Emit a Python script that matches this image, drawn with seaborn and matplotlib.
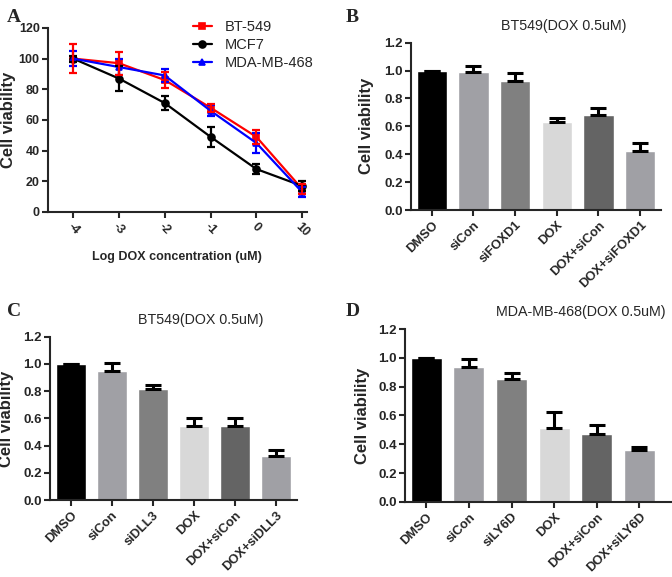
import numpy as np
import pandas as pd
import matplotlib
matplotlib.use("Agg")
import matplotlib.pyplot as plt
import seaborn as sns

# Panel A: dose response
conc = ["-4", "-3", "-2", "-1", "0", "10"]
lines = ["BT-549", "MCF7", "MDA-MB-468"]
bt549 = [100, 97, 86, 68, 49, 15]
bt549_err = [9.5, 7.5, 5, 2.5, 4.5, 3.5]
mcf7 = [100, 87, 71, 49, 28, 17]
mcf7_err = [2, 8, 4.5, 6.5, 3, 3.5]
mda = [100, 94.5, 89, 66, 45, 13]
mda_err = [5, 5, 4.5, 3.5, 6.5, 3.5]

# Panels B-D: bar charts
grp_b = ["DMSO", "siCon", "siFOXD1", "DOX", "DOX+siCon", "DOX+siFOXD1"]
val_b = [1.0, 0.99, 0.925, 0.63, 0.68, 0.42]
err_b = [0, 0.04, 0.06, 0.03, 0.055, 0.06]

grp_c = ["DMSO", "siCon", "siDLL3", "DOX", "DOX+siCon", "DOX+siDLL3"]
val_c = [1.0, 0.95, 0.815, 0.544, 0.544, 0.326]
err_c = [0, 0.06, 0.032, 0.058, 0.058, 0.041]

grp_d = ["DMSO", "siCon", "siLY6D", "DOX", "DOX+siCon", "DOX+siLY6D"]
val_d = [1.0, 0.934, 0.852, 0.51, 0.475, 0.359]
err_d = [0, 0.06, 0.042, 0.113, 0.058, 0.021]

bar_colors = ["#000000", "#a0a0a5", "#808080", "#d8d8d8", "#646464", "#a0a0a5"]
line_colors = {"BT-549": "#ff0000", "MCF7": "#000000", "MDA-MB-468": "#0000ff"}

sns.set_style("ticks")
plt.rcParams["font.family"] = ["Liberation Sans", "DejaVu Sans"]
plt.rcParams["axes.linewidth"] = 1.5
plt.rcParams["xtick.major.width"] = 1.5
plt.rcParams["ytick.major.width"] = 1.5
plt.rcParams["xtick.major.size"] = 4
plt.rcParams["ytick.major.size"] = 4
plt.rcParams["xtick.major.pad"] = 2.5
plt.rcParams["ytick.major.pad"] = 2

fig = plt.figure(figsize=(6.72, 5.77), dpi=100)

# ---- A ----
axA = fig.add_axes([0.0714, 0.6326, 0.385, 0.319])
df = pd.DataFrame({
    "conc": conc * 3,
    "line": np.repeat(lines, len(conc)),
    "val": bt549 + mcf7 + mda,
})
sns.pointplot(data=df, x="conc", y="val", hue="line", order=conc, hue_order=lines,
              palette=line_colors, markers=["s", "o", "^"], linestyles="-",
              errorbar=None, markersize=5, linewidth=1.6, ax=axA)
for name, v, e in [("MDA-MB-468", mda, mda_err), ("MCF7", mcf7, mcf7_err), ("BT-549", bt549, bt549_err)]:
    axA.errorbar(np.arange(len(conc)), v, yerr=e, fmt="none", ecolor=line_colors[name],
                 elinewidth=1.6, capsize=3, capthick=1.6, zorder=3)
axA.set_xlim(-0.55, 5.1)
axA.set_ylim(0, 120)
axA.set_yticks([0, 20, 40, 60, 80, 100, 120])
axA.set_xticks(range(len(conc)))
axA.set_xticklabels(conc, rotation=-45, ha="center", va="top")
for lab in axA.get_xticklabels() + axA.get_yticklabels():
    lab.set_fontweight("bold")
    lab.set_fontsize(9)
axA.set_xlabel("Log DOX concentration (uM)", fontsize=9, fontweight="bold", labelpad=8)
axA.set_ylabel("Cell viability", fontsize=12, fontweight="bold")
axA.yaxis.set_label_coords(-0.124, 0.5)
sns.despine(ax=axA)
leg = axA.legend(loc="upper left", bbox_to_anchor=(0.56, 1.045), frameon=False,
                 fontsize=10.5, handlelength=1.3, handletextpad=0.9, labelspacing=0.3,
                 borderpad=0, borderaxespad=0)
fig.text(0.01, 0.985, "A", fontsize=14, fontweight="bold", family="Liberation Serif", va="top")


def bar_panel(ax, groups, vals, errs, title, title_x, label_x):
    sns.barplot(x=groups, y=vals, hue=groups, palette=bar_colors, legend=False,
                width=0.73, saturation=1, ax=ax)
    ax.errorbar(np.arange(len(groups)), vals, yerr=[np.zeros(len(errs)), errs], fmt="none",
                ecolor="black", elinewidth=2.2, capsize=5.5, capthick=2.2, zorder=3)
    ax.set_ylim(0, 1.2)
    ax.set_yticks([0, 0.2, 0.4, 0.6, 0.8, 1.0, 1.2])
    ax.set_yticklabels(["0.0", "0.2", "0.4", "0.6", "0.8", "1.0", "1.2"])
    ax.set_xticks(range(len(groups)))
    ax.set_xticklabels(groups, rotation=45, ha="right", rotation_mode="anchor")
    for lab in ax.get_yticklabels():
        lab.set_fontweight("bold")
        lab.set_fontsize(9.5)
    for lab in ax.get_xticklabels():
        lab.set_fontweight("bold")
        lab.set_fontsize(9.3)
    ax.set_ylabel("Cell viability", fontsize=12, fontweight="bold")
    ax.yaxis.set_label_coords(label_x, 0.5)
    ax.set_xlabel("")
    sns.despine(ax=ax)
    ax.text(title_x, 1.06, title, transform=ax.transAxes, fontsize=10.3, ha="center", va="bottom")


# ---- B ----
axB = fig.add_axes([0.6116, 0.636, 0.372, 0.290])
bar_panel(axB, grp_b, val_b, err_b, "BT549(DOX 0.5uM)", 0.61, -0.148)
axB.set_xlim(-0.5, 5.5)
fig.text(0.515, 0.985, "B", fontsize=14, fontweight="bold", family="Liberation Serif", va="top")

# ---- C ----
axC = fig.add_axes([0.0744, 0.1334, 0.3676, 0.283])
bar_panel(axC, grp_c, val_c, err_c, "BT549(DOX 0.5uM)", 0.61, -0.146)
axC.set_xlim(-0.5, 5.5)
fig.text(0.01, 0.475, "C", fontsize=14, fontweight="bold", family="Liberation Serif", va="top")

# ---- D ----
axD = fig.add_axes([0.6027, 0.13, 0.397, 0.2998])
bar_panel(axD, grp_d, val_d, err_d, "MDA-MB-468(DOX 0.5uM)", 0.66, -0.131)
axD.set_xlim(-0.5, 5.76)
fig.text(0.515, 0.475, "D", fontsize=14, fontweight="bold", family="Liberation Serif", va="top")

fig.savefig("out.png", dpi=100)
